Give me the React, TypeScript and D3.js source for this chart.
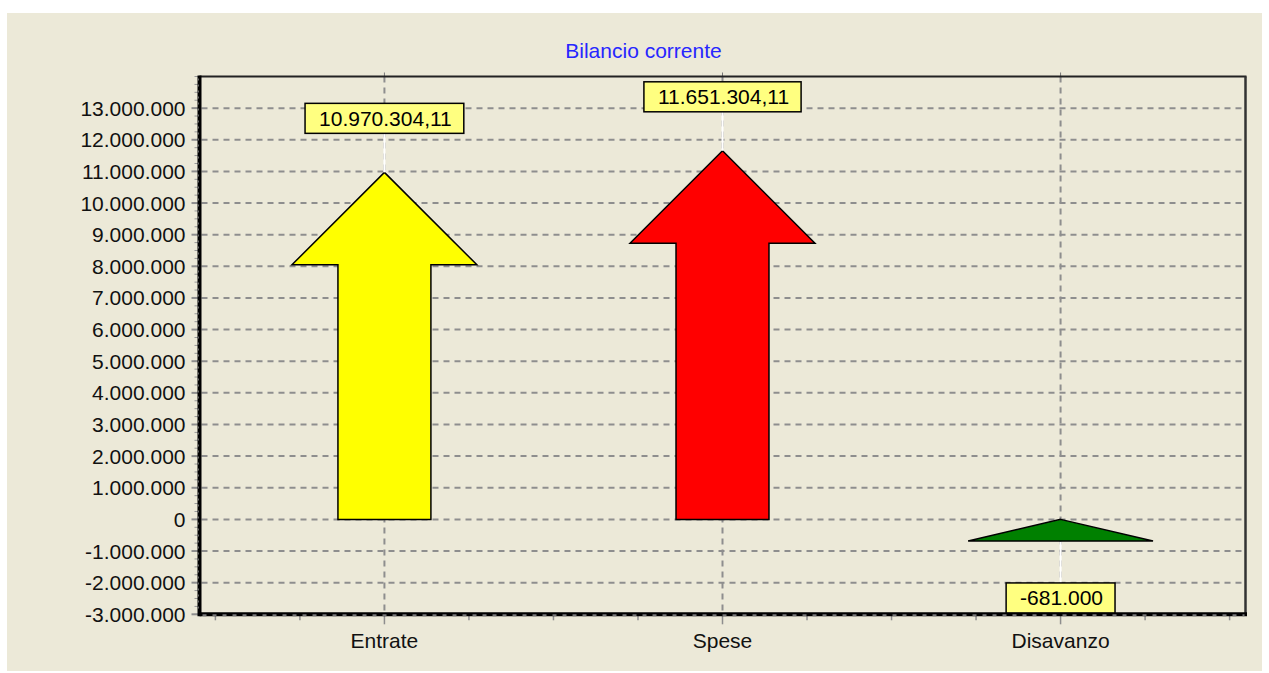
import React, { useEffect, useRef } from "react";
import * as d3 from "d3";

const title = "Bilancio corrente";
const categories = ["Entrate", "Spese", "Disavanzo"];
const values = [10970304.11, 11651304.11, -681000];
const colors = ["#FFFF00", "#FF0000", "#008000"];
const yTickValues = d3.range(-3000000, 13000001, 1000000);

const W = 1269;
const H = 673;
const FONT = "'Liberation Sans', Arial, sans-serif";

export default function App() {
  const ref = useRef<SVGSVGElement | null>(null);

  useEffect(() => {
    const svg = d3.select(ref.current);
    svg.selectAll("*").remove();

    const locale = d3.formatLocale({
      decimal: ",",
      thousands: ".",
      grouping: [3],
      currency: ["", " €"],
      minus: "-",
    });
    const fInt = locale.format(",d");
    const fDec = locale.format(",.2f");
    const fmt = (v: number) => (Number.isInteger(v) ? fInt(v) : fDec(v));

    const left = 199.5, right = 1245.5, top = 76.5, bottom = 614.3;
    const x = d3.scaleLinear().domain([0.453, 3.547]).range([left, right]);
    const y = d3.scaleLinear().domain([-3000000, 14000000]).range([bottom, top]);

    // background
    svg.append("rect").attr("x", 7).attr("y", 13).attr("width", 1255).attr("height", 658).attr("fill", "#ECE9D8");

    // title
    svg.append("text")
      .attr("x", 643.5)
      .attr("y", 58)
      .attr("text-anchor", "middle")
      .attr("font-family", FONT)
      .attr("font-size", 21)
      .attr("fill", "#2626FF")
      .text(title);

    const grid = svg.append("g");
    // horizontal grid
    yTickValues.forEach((v) => {
      if (v === -3000000) return;
      grid.append("line")
        .attr("x1", left + 2).attr("x2", right - 1)
        .attr("y1", y(v)).attr("y2", y(v))
        .attr("stroke", "#8e8e8e").attr("stroke-width", 2)
        .attr("stroke-dasharray", "6,5");
    });
    // vertical grid
    categories.forEach((_, i) => {
      grid.append("line")
        .attr("x1", x(i + 1)).attr("x2", x(i + 1))
        .attr("y1", top).attr("y2", bottom)
        .attr("stroke", "#8e8e8e").attr("stroke-width", 2)
        .attr("stroke-dasharray", "6,5");
      grid.append("line")
        .attr("x1", x(i + 1)).attr("x2", x(i + 1))
        .attr("y1", top - 4).attr("y2", top)
        .attr("stroke", "#777").attr("stroke-width", 1);
    });

    // frame top & right
    svg.append("line").attr("x1", left).attr("x2", right + 1).attr("y1", top).attr("y2", top)
      .attr("stroke", "#222").attr("stroke-width", 2);
    svg.append("line").attr("x1", right).attr("x2", right).attr("y1", top).attr("y2", bottom)
      .attr("stroke", "#333").attr("stroke-width", 2.5);

    // y axis ticks and labels
    const minorY = d3.range(-3000000, 14000001, 250000);
    minorY.forEach((v) => {
      svg.append("line").attr("x1", left - 5).attr("x2", left).attr("y1", y(v)).attr("y2", y(v))
        .attr("stroke", "#999").attr("stroke-width", 1);
    });
    yTickValues.forEach((v) => {
      svg.append("line").attr("x1", left - 8).attr("x2", left).attr("y1", y(v)).attr("y2", y(v))
        .attr("stroke", "#8e8e8e").attr("stroke-width", 2);
      svg.append("text")
        .attr("x", 185.5).attr("y", y(v) + 7.5)
        .attr("text-anchor", "end")
        .attr("font-family", FONT).attr("font-size", 21)
        .attr("fill", "#111")
        .text(fmt(v));
    });

    // x axis ticks
    d3.range(0.5, 3.51, 0.25).forEach((t) => {
      const major = Math.abs(t - Math.round(t)) < 1e-6;
      svg.append("line").attr("x1", x(t)).attr("x2", x(t))
        .attr("y1", bottom).attr("y2", bottom + (major ? 10 : 6))
        .attr("stroke", "#8e8e8e").attr("stroke-width", 1.5);
    });
    categories.forEach((c, i) => {
      svg.append("text")
        .attr("x", x(i + 1)).attr("y", 648)
        .attr("text-anchor", "middle")
        .attr("font-family", FONT).attr("font-size", 21)
        .attr("fill", "#111")
        .text(c);
    });

    // arrows
    const unitPx = x(1) - x(0);
    const shaftHalf = 0.1375 * unitPx;
    const headHalf = 0.2735 * unitPx;
    values.forEach((v, i) => {
      const cx = x(i + 1);
      const yt = y(Math.max(v, 0));
      const yb = y(Math.min(v, 0));
      const hh = Math.min(headHalf, yb - yt);
      const pts: [number, number][] = [
        [cx, yt],
        [cx + headHalf, yt + hh],
        [cx + shaftHalf, yt + hh],
        [cx + shaftHalf, yb],
        [cx - shaftHalf, yb],
        [cx - shaftHalf, yt + hh],
        [cx - headHalf, yt + hh],
      ];
      const poly = hh >= yb - yt ? [pts[0], pts[1], pts[6]] : pts;
      svg.append("polygon")
        .attr("points", poly.map((p) => p.join(",")).join(" "))
        .attr("fill", colors[i])
        .attr("stroke", "#000").attr("stroke-width", 1.5)
        .attr("stroke-linejoin", "miter");
    });

    // axes lines (left, bottom)
    svg.append("line").attr("x1", left).attr("x2", left).attr("y1", top - 1).attr("y2", bottom + 2)
      .attr("stroke", "#000").attr("stroke-width", 4);
    svg.append("line").attr("x1", left).attr("x2", right + 1.5).attr("y1", bottom).attr("y2", bottom)
      .attr("stroke", "#000").attr("stroke-width", 4);
    svg.append("line").attr("x1", left + 3).attr("x2", right - 1).attr("y1", bottom + 1).attr("y2", bottom + 1)
      .attr("stroke", "#777").attr("stroke-width", 2).attr("stroke-dasharray", "4,6");
    svg.append("line").attr("x1", left - 1).attr("x2", left - 1).attr("y1", top + 2).attr("y2", bottom - 2)
      .attr("stroke", "#666").attr("stroke-width", 1).attr("stroke-dasharray", "2,4");

    // labels
    values.forEach((v, i) => {
      const cx = x(i + 1);
      const boxH = 30;
      const g = svg.append("g");
      let boxTop: number, lineY1: number, lineY2: number;
      if (v >= 0) {
        const yt = y(v);
        boxTop = yt - 39 - boxH;
        lineY1 = yt;
        lineY2 = boxTop + boxH;
      } else {
        const ye = y(v);
        boxTop = ye + 42;
        lineY1 = ye + 1;
        lineY2 = boxTop;
      }
      g.append("line").attr("x1", cx).attr("x2", cx).attr("y1", lineY1).attr("y2", lineY2)
        .attr("stroke", "#fff").attr("stroke-width", 2);
      const rect = g.append("rect");
      const txt = g.append("text")
        .attr("x", cx + 1).attr("y", boxTop + boxH / 2 + 7.5)
        .attr("text-anchor", "middle")
        .attr("font-family", FONT).attr("font-size", 21)
        .attr("fill", "#000")
        .text(fmt(v));
      const tw = (txt.node() as SVGTextElement).getComputedTextLength();
      const bw = tw + 26;
      rect.attr("x", cx - bw / 2).attr("y", boxTop).attr("width", bw).attr("height", boxH)
        .attr("fill", "#FFFF80").attr("stroke", "#000").attr("stroke-width", 1.5);
    });
  }, []);

  return (
    <svg
      ref={ref}
      width={W}
      height={H}
      style={{ position: "absolute", left: 0, top: 0, background: "#fff" }}
    />
  );
}
